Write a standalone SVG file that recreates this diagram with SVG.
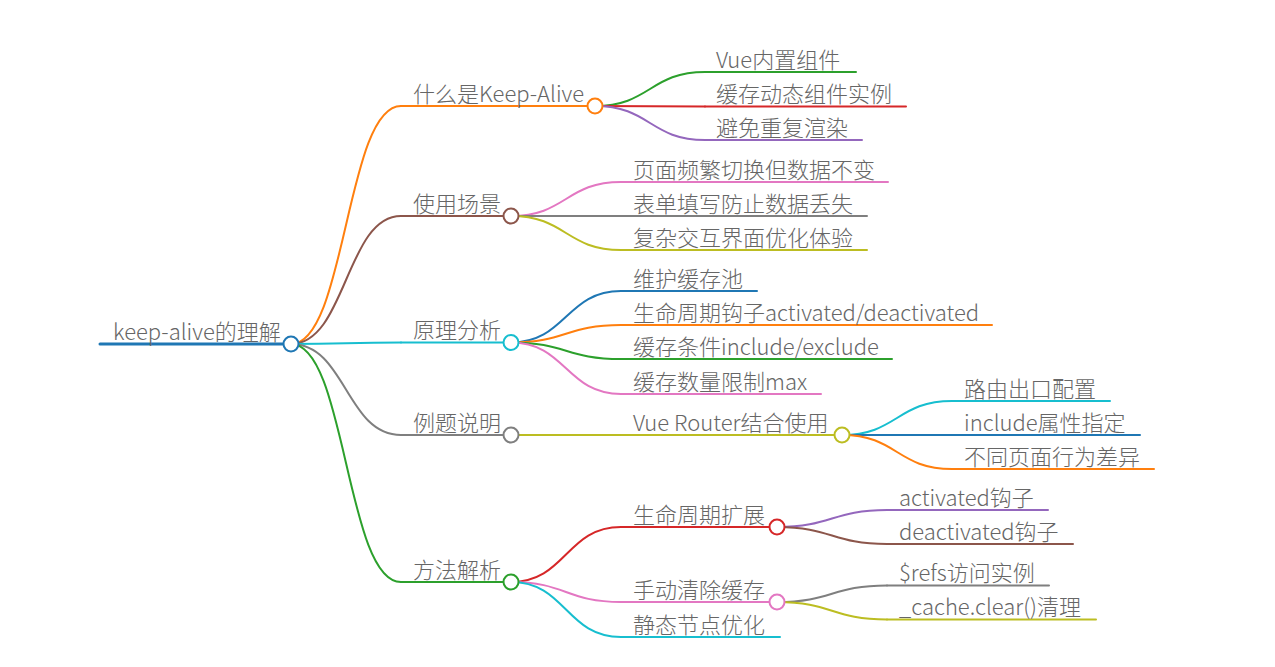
<svg xmlns="http://www.w3.org/2000/svg" width="1275" height="667" viewBox="0 0 1275 667">
<style>
text{font-family:"Noto Sans CJK SC","Noto Sans",sans-serif;font-size:22px;font-weight:300;fill:#666;}
.l{fill:none;stroke-width:2;stroke-linecap:round;}
.c{fill:#fff;stroke-width:2;}
.blue{stroke:#1f77b4}.orange{stroke:#ff7f0e}.green{stroke:#2ca02c}.red{stroke:#d62728}.purple{stroke:#9467bd}.brown{stroke:#8c564b}.pink{stroke:#e377c2}.gray{stroke:#7f7f7f}.olive{stroke:#bcbd22}.cyan{stroke:#17becf}
</style>
<rect width="1275" height="667" fill="#fff"/>
<g id="connectors">
<path class="l orange" d="M291,344 C346,344 346,106 401,106"/>
<path class="l brown" d="M291,344 C346,344 346,216 401,216"/>
<path class="l cyan" d="M291,344 C346,344 346,342.5 401,342.5"/>
<path class="l gray" d="M291,344 C346,344 346,435 401,435"/>
<path class="l green" d="M291,344 C346,344 346,582 401,582"/>
<path class="l green" d="M595,106 C650,106 650,72 705,72"/>
<path class="l red" d="M595,106 L705,106.5"/>
<path class="l purple" d="M595,106 C650,106 650,140 705,140"/>
<path class="l pink" d="M511,216 C566,216 566,182 621,182"/>
<path class="l gray" d="M511,216 L621,216"/>
<path class="l olive" d="M511,216 C566,216 566,250 621,250"/>
<path class="l blue" d="M511,342.5 C566,342.5 566,291 621,291"/>
<path class="l orange" d="M511,342.5 C566,342.5 566,325 621,325"/>
<path class="l green" d="M511,342.5 C566,342.5 566,359 621,359"/>
<path class="l pink" d="M511,342.5 C566,342.5 566,394 621,394"/>
<path class="l olive" d="M511,435 L621,435"/>
<path class="l cyan" d="M842,435 C897,435 897,401 952,401"/>
<path class="l blue" d="M842,435 L952,435"/>
<path class="l orange" d="M842,435 C897,435 897,469 952,469"/>
<path class="l red" d="M511,582 C566,582 566,527 621,527"/>
<path class="l pink" d="M511,582 C566,582 566,602 621,602"/>
<path class="l cyan" d="M511,582 C566,582 566,637 621,637"/>
<path class="l purple" d="M777,527 C832,527 832,510 887,510"/>
<path class="l brown" d="M777,527 C832,527 832,544 887,544"/>
<path class="l gray" d="M777,602 C832,602 832,585.5 887,585.5"/>
<path class="l olive" d="M777,602 C832,602 832,619.5 887,619.5"/>
</g>
<g id="root">
<path class="l blue" style="stroke-width:3" d="M100,344 H291"/>
<text x="113" y="339.5">keep-alive的理解</text>
<circle class="c blue" cx="291" cy="344" r="7.5"/>
</g>
<g id="n1">
<path class="l orange" d="M401,106 H595"/>
<text x="413" y="101.5">什么是Keep-Alive</text>
<circle class="c orange" cx="595" cy="106" r="7.5"/>
</g>
<g id="n1a"><path class="l green" d="M705,72 H856"/><text x="716" y="67.5">Vue内置组件</text></g>
<g id="n1b"><path class="l red" d="M705,106.5 H906"/><text x="716" y="102">缓存动态组件实例</text></g>
<g id="n1c"><path class="l purple" d="M705,140 H862"/><text x="716" y="135.5">避免重复渲染</text></g>
<g id="n2">
<path class="l brown" d="M401,216 H511"/>
<text x="413" y="211.5">使用场景</text>
<circle class="c brown" cx="511" cy="216" r="7.5"/>
</g>
<g id="n2a"><path class="l pink" d="M621,182 H888"/><text x="633" y="177.5">页面频繁切换但数据不变</text></g>
<g id="n2b"><path class="l gray" d="M621,216 H867"/><text x="633" y="211.5">表单填写防止数据丢失</text></g>
<g id="n2c"><path class="l olive" d="M621,250 H867"/><text x="633" y="245.5">复杂交互界面优化体验</text></g>
<g id="n3">
<path class="l cyan" d="M401,342.5 H511"/>
<text x="413" y="338">原理分析</text>
<circle class="c cyan" cx="511" cy="342.5" r="7.5"/>
</g>
<g id="n3a"><path class="l blue" d="M621,291 H757"/><text x="633" y="286.5">维护缓存池</text></g>
<g id="n3b"><path class="l orange" d="M621,325 H992"/><text x="633" y="320.5">生命周期钩子activated/deactivated</text></g>
<g id="n3c"><path class="l green" d="M621,359 H892"/><text x="633" y="354.5">缓存条件include/exclude</text></g>
<g id="n3d"><path class="l pink" d="M621,394 H821"/><text x="633" y="389.5">缓存数量限制max</text></g>
<g id="n4">
<path class="l gray" d="M401,435 H511"/>
<text x="413" y="430.5">例题说明</text>
<circle class="c gray" cx="511" cy="435" r="7.5"/>
</g>
<g id="n4a">
<path class="l olive" d="M621,435 H842"/>
<text x="633" y="430.5">Vue Router结合使用</text>
<circle class="c olive" cx="842" cy="435" r="7.5"/>
</g>
<g id="n4a1"><path class="l cyan" d="M952,401 H1110"/><text x="964" y="396.5">路由出口配置</text></g>
<g id="n4a2"><path class="l blue" d="M952,435 H1140"/><text x="964" y="430.5">include属性指定</text></g>
<g id="n4a3"><path class="l orange" d="M952,469 H1154"/><text x="964" y="464.5">不同页面行为差异</text></g>
<g id="n5">
<path class="l green" d="M401,582 H511"/>
<text x="413" y="577.5">方法解析</text>
<circle class="c green" cx="511" cy="582" r="7.5"/>
</g>
<g id="n5a">
<path class="l red" d="M621,527 H777"/>
<text x="633" y="522.5">生命周期扩展</text>
<circle class="c red" cx="777" cy="527" r="7.5"/>
</g>
<g id="n5a1"><path class="l purple" d="M887,510 H1048"/><text x="899" y="505.5">activated钩子</text></g>
<g id="n5a2"><path class="l brown" d="M887,544 H1073"/><text x="899" y="539.5">deactivated钩子</text></g>
<g id="n5b">
<path class="l pink" d="M621,602 H777"/>
<text x="633" y="597.5">手动清除缓存</text>
<circle class="c pink" cx="777" cy="602" r="7.5"/>
</g>
<g id="n5b1"><path class="l gray" d="M887,585.5 H1049"/><text x="899" y="581">$refs访问实例</text></g>
<g id="n5b2"><path class="l olive" d="M887,619.5 H1096"/><text x="899" y="615">_cache.clear()清理</text></g>
<g id="n5c"><path class="l cyan" d="M621,637 H780"/><text x="633" y="632.5">静态节点优化</text></g>
</svg>
